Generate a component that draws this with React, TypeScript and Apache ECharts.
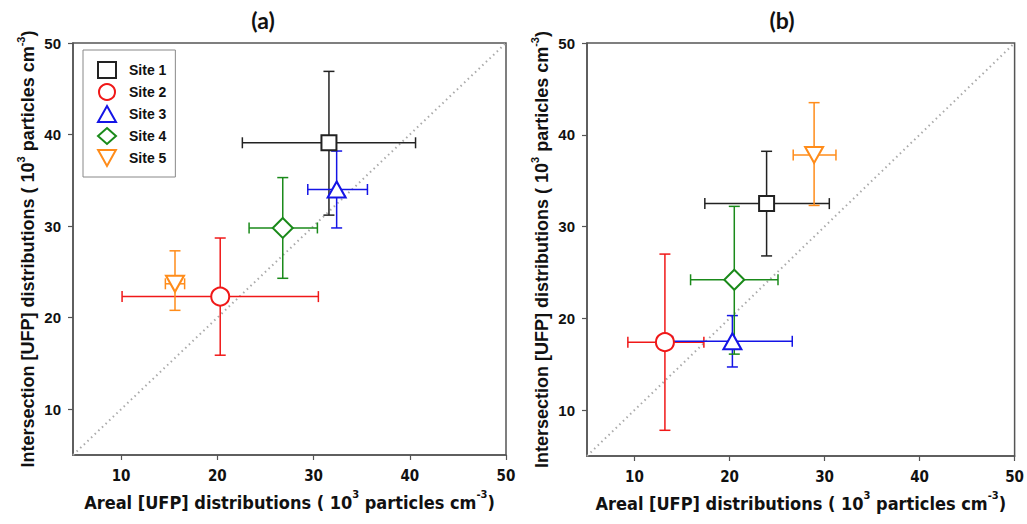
import React, { useEffect, useRef } from "react";
import * as echarts from "echarts";

const sites = ["Site 1", "Site 2", "Site 3", "Site 4", "Site 5"];
const colors = ["#222222", "#f01818", "#1414e6", "#1a8a1a", "#ff8c1a"];
const symbols = ["rect", "circle", "triangle", "diamond", "path://M0,0 L10,0 L5,9 Z"];
const symbolSizes: any[] = [[15, 15], [18, 18], [18, 16], [20, 20], [18, 16]];

// Panel (a)
const aX = [31.6, 20.3, 32.4, 26.8, 15.6];
const aY = [39.1, 22.3, 34.0, 29.8, 23.7];
const aXLo = [22.6, 10.1, 29.4, 23.3, 14.6];
const aXHi = [40.6, 30.5, 35.6, 30.4, 16.6];
const aYLo = [31.2, 15.9, 29.8, 24.3, 20.8];
const aYHi = [46.9, 28.7, 38.2, 35.3, 27.3];

// Panel (b)
const bX = [23.9, 13.2, 20.3, 20.5, 28.9];
const bY = [32.5, 17.4, 17.5, 24.2, 37.8];
const bXLo = [17.4, 9.3, 14.0, 15.9, 26.7];
const bXHi = [30.5, 17.3, 26.6, 25.1, 31.2];
const bYLo = [26.8, 7.8, 14.7, 16.1, 32.3];
const bYHi = [38.2, 27.0, 20.3, 32.2, 43.5];

const axisMin = 5;
const axisMax = 50;
const tickValues = [10, 20, 30, 40, 50];
const identityLine = [[5, 5], [50, 50]];

const narrow = '"Liberation Sans Narrow", "DejaVu Sans Condensed", "Liberation Sans", sans-serif';
const sans = '"Liberation Sans", Arial, sans-serif';

export default function App() {
  const ref = useRef<HTMLDivElement>(null);
  useEffect(() => {
    if (!ref.current) return;
    const chart = echarts.init(ref.current, null, { renderer: "svg" });

    const xName = "{n|Areal [UFP] distributions ( 10}{s|3}{n| particles cm}{s|-3}{n|)}";
    const yName = "{n|Intersection [UFP] distributions ( 10}{s|3}{n| particles cm}{s|-3}{n|)}";

    const xAxisBase = (gi: number) => ({
      type: "value",
      gridIndex: gi,
      min: axisMin,
      max: axisMax,
      name: xName,
      nameLocation: "middle",
      nameGap: 34,
      nameTextStyle: {
        rich: {
          n: { fontFamily: narrow, fontWeight: "bold", fontSize: 18, lineHeight: 22, color: "#111", verticalAlign: "bottom" },
          s: { fontFamily: narrow, fontWeight: "bold", fontSize: 11, lineHeight: 11, color: "#111", verticalAlign: "top" },
        },
      },
      axisLine: { show: true, lineStyle: { color: "#555", width: 1.5 } },
      axisTick: { show: true, inside: false, length: 5, customValues: tickValues, lineStyle: { color: "#555", width: 1.2 } },
      axisLabel: { customValues: tickValues, margin: 13, fontFamily: narrow, fontWeight: "bold", fontSize: 15, color: "#111" },
      splitLine: { show: false },
    });
    const yAxisBase = (gi: number) => ({
      type: "value",
      gridIndex: gi,
      min: axisMin,
      max: axisMax,
      name: yName,
      nameLocation: "middle",
      nameRotate: 90,
      nameGap: 36,
      nameTextStyle: {
        rich: {
          n: { fontFamily: sans, fontWeight: "bold", fontSize: 18, lineHeight: 22, color: "#111", verticalAlign: "bottom" },
          s: { fontFamily: sans, fontWeight: "bold", fontSize: 11, lineHeight: 11, color: "#111", verticalAlign: "top" },
        },
      },
      axisLine: { show: true, lineStyle: { color: "#555", width: 1.5 } },
      axisTick: { show: true, inside: false, length: 5, customValues: tickValues, lineStyle: { color: "#555", width: 1.2 } },
      axisLabel: { customValues: tickValues, margin: 12, fontFamily: sans, fontWeight: "bold", fontSize: 15, color: "#111" },
      splitLine: { show: false },
    });

    const series: any[] = [];
    const panels = [
      { x: aX, y: aY, xl: aXLo, xh: aXHi, yl: aYLo, yh: aYHi },
      { x: bX, y: bY, xl: bXLo, xh: bXHi, yl: bYLo, yh: bYHi },
    ];

    // markers first (legend takes the first series by name)
    panels.forEach((p, pi) => {
      sites.forEach((s, i) => {
        series.push({
          type: "scatter",
          name: s,
          xAxisIndex: pi,
          yAxisIndex: pi,
          z: 5,
          symbol: symbols[i],
          symbolSize: symbolSizes[i],
          itemStyle: { color: "#ffffff", borderColor: colors[i], borderWidth: 2, opacity: 1 },
          data: [[p.x[i], p.y[i]]],
        });
      });
    });

    panels.forEach((p, pi) => {
      series.push({
        type: "line",
        name: "identity" + pi,
        xAxisIndex: pi,
        yAxisIndex: pi,
        z: 1,
        symbol: "none",
        lineStyle: { color: "#aaaaaa", width: 2, type: [1.5, 3.5] },
        data: identityLine,
      });
      sites.forEach((s, i) => {
        series.push({
          type: "custom",
          name: s + " err " + pi,
          xAxisIndex: pi,
          yAxisIndex: pi,
          z: 3,
          data: [[p.x[i], p.y[i], p.xl[i], p.xh[i], p.yl[i], p.yh[i]]],
          renderItem: (params: any, api: any) => {
            const x = api.value(0), y = api.value(1);
            const c = api.coord([x, y]);
            const xl = api.coord([api.value(2), y])[0];
            const xh = api.coord([api.value(3), y])[0];
            const yl = api.coord([x, api.value(4)])[1];
            const yh = api.coord([x, api.value(5)])[1];
            const cap = 5.5;
            const st = { stroke: colors[i], lineWidth: 1.5, fill: null };
            const ln = (x1: number, y1: number, x2: number, y2: number) => ({ type: "line", shape: { x1, y1, x2, y2 }, style: st });
            return {
              type: "group",
              children: [
                ln(xl, c[1], xh, c[1]),
                ln(xl, c[1] - cap, xl, c[1] + cap),
                ln(xh, c[1] - cap, xh, c[1] + cap),
                ln(c[0], yl, c[0], yh),
                ln(c[0] - cap, yl, c[0] + cap, yl),
                ln(c[0] - cap, yh, c[0] + cap, yh),
              ],
            };
          },
        });
      });
    });

    chart.setOption({
      animation: false,
      backgroundColor: "#ffffff",
      grid: [
        { left: 73, top: 43, width: 433, height: 412, show: true, borderColor: "#555", borderWidth: 1.5, backgroundColor: "transparent" },
        { left: 587, top: 43, width: 432, height: 413, show: true, borderColor: "#555", borderWidth: 1.5, backgroundColor: "transparent" },
      ],
      xAxis: [xAxisBase(0), xAxisBase(1)],
      yAxis: [yAxisBase(0), yAxisBase(1)],
      legend: {
        data: sites,
        orient: "vertical",
        left: 83,
        top: 50,
        padding: [11, 9, 10, 14],
        itemGap: 4,
        itemWidth: 18,
        itemHeight: 16,
        borderColor: "#888",
        borderWidth: 1,
        backgroundColor: "#ffffff",
        textStyle: { fontFamily: sans, fontWeight: "bold", fontSize: 14, lineHeight: 16, color: "#111", padding: [0, 0, 0, 8] },
      },
      graphic: [
        { type: "text", x: 263, y: 20, style: { text: "(a)", fontFamily: "Lato, sans-serif", fontWeight: "bold", fontSize: 23, fill: "#111", align: "center", verticalAlign: "middle" } },
        { type: "text", x: 782, y: 20, style: { text: "(b)", fontFamily: "Lato, sans-serif", fontWeight: "bold", fontSize: 23, fill: "#111", align: "center", verticalAlign: "middle" } },
      ],
      series,
    });
    return () => chart.dispose();
  }, []);
  return <div ref={ref} style={{ position: "fixed", left: 0, top: 0, width: 1027, height: 524 }} />;
}
